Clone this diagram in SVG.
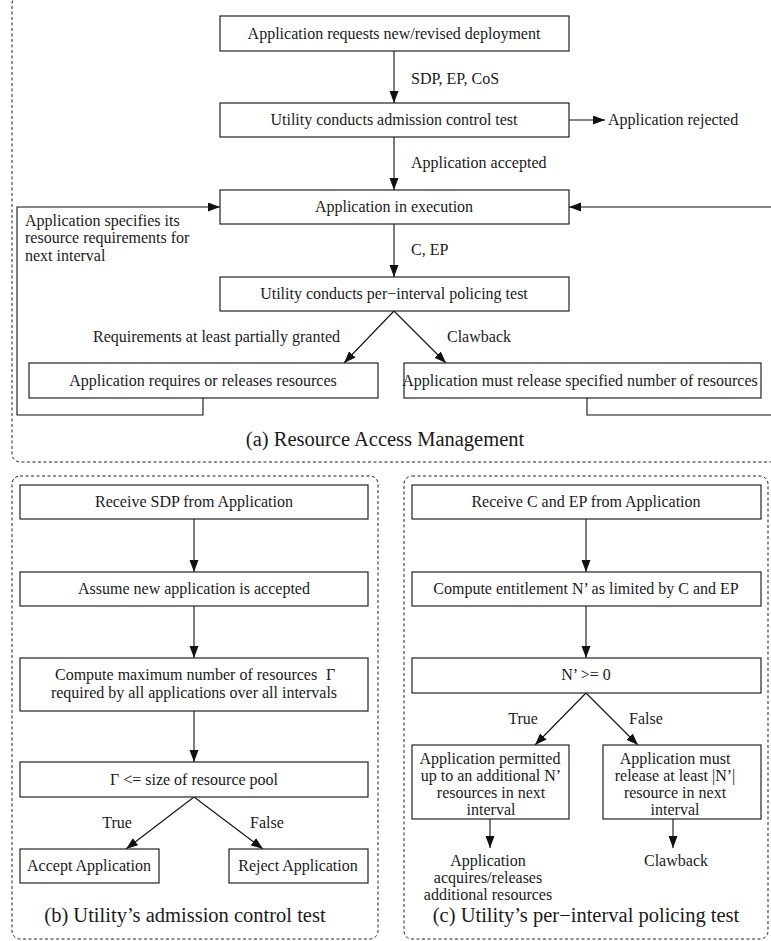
<svg xmlns="http://www.w3.org/2000/svg" width="771" height="941" viewBox="0 0 771 941">
<style>
text{font-family:"Liberation Serif","Times New Roman",serif;font-size:16px;fill:#1a1a1a;}
.c{text-anchor:middle;}
.cap{font-size:20.5px;text-anchor:middle;}
.box{fill:#fff;stroke:#222;stroke-width:1.2;}
.panel{fill:none;stroke:#222;stroke-width:1;stroke-dasharray:3,2.5;}
.ln{fill:none;stroke:#111;stroke-width:1.1;}
.arr{fill:none;stroke:#111;stroke-width:1.1;marker-end:url(#ah);}
</style>
<defs>
<marker id="ah" markerUnits="userSpaceOnUse" markerWidth="13" markerHeight="10" refX="12" refY="4.5" orient="auto">
<path d="M0,0 L12,4.5 L0,9 z" fill="#111"/>
</marker>
</defs>
<rect width="771" height="941" fill="#fff"/>

<g id="panels">
<rect class="panel" x="12" y="-4" width="790" height="466" rx="8"/>
<rect class="panel" x="12" y="476" width="366" height="463" rx="8"/>
<rect class="panel" x="404" y="476" width="364" height="463" rx="8"/>
<text class="cap" x="385" y="446">(a) Resource Access Management</text>
<text class="cap" x="185" y="922">(b) Utility’s admission control test</text>
<text class="cap" x="586" y="922">(c) Utility’s per−interval policing test</text>
</g>

<g id="connectors">
<line class="arr" x1="394" y1="51" x2="394" y2="103"/>
<line class="arr" x1="569" y1="120" x2="605" y2="120"/>
<line class="arr" x1="394" y1="137" x2="394" y2="190"/>
<line class="arr" x1="394" y1="224" x2="394" y2="277"/>
<line class="arr" x1="394" y1="311" x2="344" y2="363"/>
<line class="arr" x1="394" y1="311" x2="446" y2="363"/>
<polyline class="arr" points="203,398 203,415 17,415 17,207 220,207"/>
<polyline class="ln" points="587,398 587,415 790,415"/>
<line class="arr" x1="790" y1="207" x2="569" y2="207"/>
<line class="arr" x1="194" y1="519" x2="194" y2="572"/>
<line class="arr" x1="194" y1="606" x2="194" y2="658"/>
<line class="arr" x1="194" y1="711" x2="194" y2="762"/>
<line class="arr" x1="194" y1="797" x2="126" y2="849"/>
<line class="arr" x1="194" y1="797" x2="263" y2="849"/>
<line class="arr" x1="586" y1="519" x2="586" y2="572"/>
<line class="arr" x1="586" y1="606" x2="586" y2="658"/>
<line class="arr" x1="586" y1="693" x2="535" y2="745"/>
<line class="arr" x1="586" y1="693" x2="638" y2="745"/>
<line class="arr" x1="490" y1="819" x2="490" y2="848"/>
<line class="arr" x1="673" y1="819" x2="673" y2="848"/>
<text x="411" y="84">SDP, EP, CoS</text>
<text x="608" y="125">Application rejected</text>
<text x="411" y="168">Application accepted</text>
<text x="411" y="255">C, EP</text>
<text x="25" y="226">Application specifies its</text>
<text x="25" y="243">resource requirements for</text>
<text x="25" y="261">next interval</text>
<text x="340" y="342" text-anchor="end">Requirements at least partially granted</text>
<text x="447" y="342">Clawback</text>
<text class="c" x="117" y="828">True</text>
<text class="c" x="267" y="828">False</text>
<text class="c" x="523" y="724">True</text>
<text class="c" x="646" y="724">False</text>
</g>

<g id="a1"><rect class="box" x="220" y="16" width="349" height="35"/><text class="c" x="394" y="39">Application requests new/revised deployment</text></g>
<g id="a2"><rect class="box" x="220" y="103" width="349" height="34"/><text class="c" x="394" y="125">Utility conducts admission control test</text></g>
<g id="a3"><rect class="box" x="220" y="190" width="349" height="34"/><text class="c" x="394" y="212">Application in execution</text></g>
<g id="a4"><rect class="box" x="220" y="277" width="349" height="34"/><text class="c" x="394" y="299">Utility conducts per−interval policing test</text></g>
<g id="a5"><rect class="box" x="29" y="363" width="349" height="35"/><text class="c" x="203" y="386">Application requires or releases resources</text></g>
<g id="a6"><rect class="box" x="404" y="363" width="357" height="35"/><text class="c" x="580" y="386">Application must release specified number of resources</text></g>

<g id="b1"><rect class="box" x="20" y="485" width="348" height="34"/><text class="c" x="194" y="507">Receive SDP from Application</text></g>
<g id="b2"><rect class="box" x="20" y="572" width="348" height="34"/><text class="c" x="194" y="594">Assume new application is accepted</text></g>
<g id="b3"><rect class="box" x="20" y="658" width="348" height="53"/><text x="55" y="680">Compute maximum number of resources</text><text x="326" y="680">Γ</text><text class="c" x="194" y="698">required by all applications over all intervals</text></g>
<g id="b4"><rect class="box" x="20" y="762" width="348" height="35"/><text class="c" x="194" y="785">Γ &lt;= size of resource pool</text></g>
<g id="b5"><rect class="box" x="20" y="849" width="139" height="34"/><text class="c" x="89" y="871">Accept Application</text></g>
<g id="b6"><rect class="box" x="229" y="849" width="139" height="34"/><text class="c" x="298" y="871">Reject Application</text></g>

<g id="c1"><rect class="box" x="412" y="485" width="349" height="34"/><text class="c" x="586" y="507">Receive C and EP from Application</text></g>
<g id="c2"><rect class="box" x="412" y="572" width="349" height="34"/><text class="c" x="586" y="594">Compute entitlement N’ as limited by C and EP</text></g>
<g id="c3"><rect class="box" x="412" y="658" width="349" height="35"/><text class="c" x="586" y="680">N’ &gt;= 0</text></g>
<g id="c4"><rect class="box" x="412" y="745" width="157" height="74"/><text class="c" x="490" y="764">Application permitted</text><text class="c" x="491" y="781">up to an additional N’</text><text class="c" x="491" y="798">resources in next</text><text class="c" x="491" y="815">interval</text></g>
<g id="c5"><rect class="box" x="603" y="745" width="158" height="74"/><text class="c" x="675" y="764">Application must</text><text class="c" x="675" y="781">release at least |N’|</text><text class="c" x="675" y="798">resource in next</text><text class="c" x="675" y="815">interval</text></g>
<g id="c6"><text class="c" x="488" y="866">Application</text><text class="c" x="488" y="883">acquires/releases</text><text class="c" x="488" y="900">additional resources</text></g>
<g id="c7"><text class="c" x="676" y="866">Clawback</text></g>
</svg>
